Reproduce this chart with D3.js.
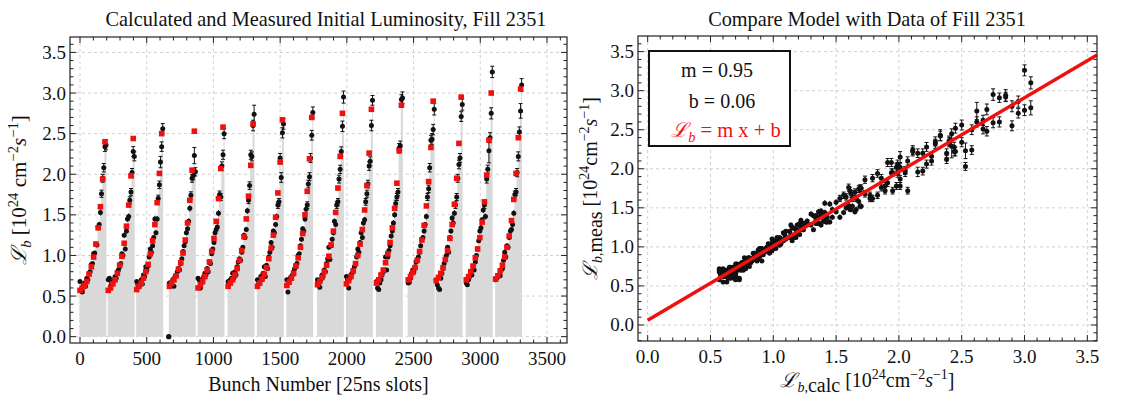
<!DOCTYPE html>
<html>
<head>
<meta charset="utf-8">
<script src="https://cdn.jsdelivr.net/npm/d3@7.9.0/dist/d3.min.js"></script>
<style>
  body { margin: 0; background: #fff; }
  text { font-family: "Liberation Serif", "DejaVu Serif", serif; fill: #111; }
</style>
</head>
<body>
<svg id="chart" width="1142" height="396"></svg>
<script>
// ---- data ----
const trainStart = [0, 212, 425, 670, 885, 1110, 1330, 1550, 1780, 1997, 2222, 2460, 2670, 2895, 3115];
const redSlot   = [0, 17, 34, 51, 68, 85, 102, 119, 136, 153, 170, 187];
const blackSlot = [0, 8, 17, 25, 34, 42, 51, 59, 68, 76, 85, 93, 102, 110, 119, 127, 136, 144, 153, 161, 170, 178, 187, 195];

// calculated luminosity (red squares), one row per train
const calcLumi = [
  [0.57, 0.60, 0.63, 0.68, 0.77, 0.86, 0.98, 1.14, 1.34, 1.60, 1.94, 2.40],
  [0.57, 0.60, 0.65, 0.70, 0.78, 0.88, 0.99, 1.15, 1.36, 1.62, 1.98, 2.44],
  [0.58, 0.62, 0.66, 0.72, 0.80, 0.89, 1.02, 1.18, 1.38, 1.65, 2.01, 2.50],
  [0.62, 0.66, 0.70, 0.75, 0.83, 0.91, 1.03, 1.19, 1.40, 1.68, 2.05, 2.53],
  [0.60, 0.64, 0.68, 0.74, 0.82, 0.92, 1.05, 1.21, 1.42, 1.70, 2.07, 2.58],
  [0.62, 0.66, 0.70, 0.76, 0.84, 0.94, 1.06, 1.23, 1.45, 1.73, 2.11, 2.62],
  [0.62, 0.66, 0.71, 0.77, 0.85, 0.96, 1.09, 1.25, 1.47, 1.77, 2.15, 2.67],
  [0.63, 0.67, 0.72, 0.78, 0.87, 0.97, 1.10, 1.27, 1.50, 1.79, 2.19, 2.70],
  [0.64, 0.68, 0.73, 0.80, 0.88, 0.99, 1.13, 1.30, 1.53, 1.83, 2.22, 2.75],
  [0.65, 0.69, 0.74, 0.81, 0.90, 1.00, 1.14, 1.32, 1.56, 1.86, 2.26, 2.80],
  [0.66, 0.70, 0.76, 0.82, 0.91, 1.02, 1.16, 1.34, 1.58, 1.89, 2.29, 2.85],
  [0.70, 0.74, 0.79, 0.85, 0.94, 1.05, 1.19, 1.37, 1.61, 1.91, 2.33, 2.90],
  [0.69, 0.73, 0.78, 0.85, 0.95, 1.06, 1.21, 1.38, 1.63, 1.95, 2.38, 2.95],
  [0.70, 0.74, 0.80, 0.87, 0.97, 1.08, 1.22, 1.41, 1.66, 1.99, 2.42, 3.00],
  [0.71, 0.75, 0.81, 0.88, 0.98, 1.10, 1.24, 1.43, 1.69, 2.01, 2.45, 3.05]
];

// measured luminosity (black points), two bunches per calculated level, one row per train
const measLumi = [
  [0.68, 0.58, 0.55, 0.63, 0.66, 0.62, 0.72, 0.70, 0.78, 0.80, 0.89, 0.90, 1.02, 1.03, 1.14, 1.13, 1.35, 1.38, 1.53, 1.76, 1.95, 2.08, 2.34, 2.36],
  [0.70, 0.72, 0.62, 0.67, 0.66, 0.70, 0.74, 0.72, 0.80, 0.82, 0.86, 0.90, 1.02, 1.00, 1.25, 1.08, 1.30, 1.45, 1.48, 1.68, 1.78, 2.02, 2.28, 2.22],
  [0.68, 0.64, 0.62, 0.67, 0.70, 0.65, 0.76, 0.74, 0.86, 0.82, 0.87, 0.98, 1.08, 1.04, 1.12, 1.22, 1.45, 1.28, 1.45, 1.70, 1.87, 2.15, 2.34, 2.56],
  [0.66, 0.64, 0.66, 0.70, 0.62, 0.74, 0.76, 0.80, 0.84, 0.82, 0.90, 0.96, 1.05, 1.12, 1.17, 1.28, 1.33, 1.42, 1.58, 1.74, 1.95, 1.98, 2.23, 2.03],
  [0.72, 0.70, 0.60, 0.66, 0.70, 0.74, 0.78, 0.76, 0.84, 0.80, 0.92, 0.90, 1.02, 1.08, 1.16, 1.28, 1.32, 1.35, 1.52, 1.75, 1.72, 2.10, 2.24, 2.50],
  [0.68, 0.65, 0.70, 0.72, 0.78, 0.72, 0.80, 0.76, 0.86, 0.92, 0.96, 0.94, 1.04, 1.10, 1.25, 1.22, 1.32, 1.55, 1.68, 1.86, 2.24, 2.22, 2.60, 2.74],
  [0.70, 0.65, 0.68, 0.74, 0.70, 0.78, 0.86, 0.74, 0.88, 0.84, 0.98, 1.04, 1.16, 1.10, 1.30, 1.28, 1.38, 1.48, 1.62, 1.66, 2.20, 1.96, 2.51, 2.62],
  [0.70, 0.55, 0.68, 0.72, 0.74, 0.76, 0.80, 0.84, 0.86, 0.90, 1.00, 1.02, 1.12, 1.20, 1.33, 1.30, 1.45, 1.57, 1.62, 1.88, 1.97, 2.20, 2.48, 2.76],
  [0.70, 0.66, 0.61, 0.70, 0.76, 0.74, 0.82, 0.80, 0.90, 0.96, 1.10, 0.95, 1.12, 1.20, 1.28, 1.42, 1.38, 1.62, 1.66, 1.94, 2.06, 2.28, 2.59, 2.95],
  [0.74, 0.70, 0.60, 0.72, 0.76, 0.78, 0.82, 0.86, 0.90, 0.98, 1.08, 1.04, 1.16, 1.28, 1.22, 1.40, 1.44, 1.66, 1.76, 1.88, 2.10, 2.16, 2.60, 2.91],
  [0.68, 0.60, 0.58, 0.66, 0.70, 0.76, 0.80, 0.82, 0.98, 0.82, 0.98, 1.06, 1.12, 1.24, 1.30, 1.40, 1.50, 1.64, 1.72, 1.78, 2.32, 2.35, 2.92, 2.94],
  [0.66, 0.67, 0.72, 0.78, 0.82, 0.80, 0.86, 0.92, 0.95, 0.98, 1.04, 1.12, 1.20, 1.22, 1.30, 1.38, 1.48, 1.72, 1.82, 2.08, 2.42, 2.43, 2.55, 2.80],
  [0.70, 0.64, 0.60, 0.58, 0.72, 0.78, 0.84, 0.90, 0.96, 1.00, 1.10, 1.04, 1.22, 1.30, 1.46, 1.40, 1.52, 1.62, 1.72, 1.95, 2.12, 2.20, 2.71, 2.86],
  [0.66, 0.64, 0.70, 0.74, 0.78, 0.76, 0.86, 0.82, 0.92, 1.00, 1.08, 1.18, 1.30, 1.34, 1.44, 1.56, 1.62, 1.48, 1.94, 2.06, 2.29, 2.45, 2.75, 3.26],
  [0.70, 0.72, 0.74, 0.76, 0.75, 0.82, 0.84, 0.94, 1.04, 0.98, 1.12, 1.10, 1.22, 1.30, 1.32, 1.38, 1.52, 1.75, 1.78, 2.02, 2.22, 2.52, 2.78, 3.10]
];

const outlierSlot = [665];
const outlierLumi = [0.0];

const relErr = 0.025;
// [train, bunch index, error] for the larger error bars
const bigErr = [[3, 22, 0.10], [5, 23, 0.11], [13, 23, 0.07], [13, 20, 0.15], [9, 23, 0.06],
                [1, 22, 0.06], [6, 21, 0.06], [10, 22, 0.06], [11, 21, 0.07], [14, 22, 0.09],
                [2, 21, 0.07], [7, 22, 0.06], [12, 22, 0.06]];

const fitM = 0.95, fitB = 0.06;

const xTicksLeft = [0, 500, 1000, 1500, 2000, 2500, 3000, 3500];
const yTicks = [0, 0.5, 1, 1.5, 2, 2.5, 3, 3.5];
const xTicksRight = [0, 0.5, 1, 1.5, 2, 2.5, 3, 3.5];

// ---- build point tables ----
const errLookup = new Map(bigErr.map(d => [d[0] + '-' + d[1], d[2]]));
const blackPts = [];
const redPts = [];
trainStart.forEach((s, t) => {
  measLumi[t].forEach((v, j) => {
    blackPts.push({
      train: t, slot: s + blackSlot[j], meas: v,
      calc: calcLumi[t][Math.floor(j / 2)],
      err: errLookup.get(t + '-' + j) ?? v * relErr
    });
  });
  calcLumi[t].forEach((v, k) => redPts.push({ slot: s + redSlot[k], calc: v }));
});

const svg = d3.select('#chart');
const fmt = d3.format('.1f');
const RED = '#f01010';

function richText(sel, parts, size) {
  parts.forEach(p => {
    const ts = sel.append('tspan').text(p.t);
    if (p.i) ts.attr('font-style', 'italic');
    if (p.sup) ts.attr('font-size', size * 0.7).attr('dy', -size * 0.38);
    if (p.sub) ts.attr('font-size', size * 0.7).attr('dy', size * 0.25);
    if (p.back) ts.attr('dy', p.back * size);
  });
}

function grid(g, box, x, y, xMaj, yMaj) {
  const gridC = '#d0d0d0';
  g.append('g').selectAll('line').data(xMaj).join('line')
    .attr('x1', d => x(d)).attr('x2', d => x(d)).attr('y1', box.y0).attr('y2', box.y1)
    .attr('stroke', gridC).attr('stroke-dasharray', '3,3');
  g.append('g').selectAll('line').data(yMaj).join('line')
    .attr('y1', d => y(d)).attr('y2', d => y(d)).attr('x1', box.x0).attr('x2', box.x1)
    .attr('stroke', gridC).attr('stroke-dasharray', '3,3');
}

function frameTicks(g, box, x, y, xMaj, xMin, yMaj, yMin, xFmt) {
  const tk = g.append('g').attr('stroke', '#222').attr('stroke-width', 1);
  const addX = (vals, len) => {
    tk.append('g').selectAll('line').data(vals).join('line')
      .attr('x1', d => x(d)).attr('x2', d => x(d)).attr('y1', box.y1).attr('y2', box.y1 - len);
    tk.append('g').selectAll('line').data(vals).join('line')
      .attr('x1', d => x(d)).attr('x2', d => x(d)).attr('y1', box.y0).attr('y2', box.y0 + len);
  };
  const addY = (vals, len) => {
    tk.append('g').selectAll('line').data(vals).join('line')
      .attr('y1', d => y(d)).attr('y2', d => y(d)).attr('x1', box.x0).attr('x2', box.x0 + len);
    tk.append('g').selectAll('line').data(vals).join('line')
      .attr('y1', d => y(d)).attr('y2', d => y(d)).attr('x1', box.x1).attr('x2', box.x1 - len);
  };
  addX(xMaj, 6); addX(xMin, 3.5); addY(yMaj, 6); addY(yMin, 3.5);
  g.append('rect').attr('x', box.x0).attr('y', box.y0)
    .attr('width', box.x1 - box.x0).attr('height', box.y1 - box.y0)
    .attr('fill', 'none').attr('stroke', '#222').attr('stroke-width', 1.2);
  g.append('g').selectAll('text').data(xMaj).join('text')
    .attr('x', d => x(d)).attr('y', box.y1 + 22).attr('text-anchor', 'middle')
    .attr('font-size', 19).text(xFmt);
  g.append('g').selectAll('text').data(yMaj).join('text')
    .attr('x', box.x0 - 4).attr('y', d => y(d) + 6.5).attr('text-anchor', 'end')
    .attr('font-size', 19).text(fmt);
}

function errorBars(g, data, xf, yf) {
  const eb = g.append('g').attr('stroke', '#111').attr('stroke-width', 1);
  eb.selectAll('.v').data(data).join('line').attr('class', 'v')
    .attr('x1', xf).attr('x2', xf)
    .attr('y1', d => yf(d.meas - d.err)).attr('y2', d => yf(d.meas + d.err));
  [1, -1].forEach(sgn => {
    eb.append('g').selectAll('line').data(data.filter(d => d.err > 0.04)).join('line')
      .attr('x1', d => xf(d) - 2).attr('x2', d => xf(d) + 2)
      .attr('y1', d => yf(d.meas + sgn * d.err))
      .attr('y2', d => yf(d.meas + sgn * d.err));
  });
}

// ================= left panel =================
const L = { x0: 70, x1: 567, y0: 37, y1: 343 };
const xL = d3.scaleLinear().domain([-75, 3650]).range([L.x0, L.x1]);
const yL = d3.scaleLinear().domain([-0.078, 3.69]).range([L.y1, L.y0]);
const gL = svg.append('g');

grid(gL, L, xL, yL, xTicksLeft, yTicks);

// gray bars under each train
const area = d3.area().curve(d3.curveStepAfter)
  .x(d => xL(d.slot)).y0(yL(0)).y1(d => yL(d.v));
trainStart.forEach((s, t) => {
  const pts = measLumi[t].map((v, j) => ({ slot: s + blackSlot[j] - 4, v }));
  pts.push({ slot: s + blackSlot[blackSlot.length - 1] + 3, v: measLumi[t][measLumi[t].length - 1] });
  gL.append('path').datum(pts).attr('d', area).attr('fill', '#d9d9d9');
});

errorBars(gL, blackPts, d => xL(d.slot), yL);
gL.append('g').selectAll('circle').data(blackPts).join('circle')
  .attr('cx', d => xL(d.slot)).attr('cy', d => yL(d.meas)).attr('r', 2.5).attr('fill', '#111');
gL.append('g').selectAll('circle').data(outlierSlot).join('circle')
  .attr('cx', d => xL(d)).attr('cy', (d, i) => yL(outlierLumi[i])).attr('r', 2.7).attr('fill', '#111');
gL.append('g').selectAll('rect').data(redPts).join('rect')
  .attr('x', d => xL(d.slot) - 2.8).attr('y', d => yL(d.calc) - 2.8)
  .attr('width', 5.6).attr('height', 5.6).attr('fill', RED);

frameTicks(gL, L, xL, yL, xTicksLeft, d3.range(-0, 3650, 100).filter(v => v % 500),
  yTicks, d3.range(0, 3.7, 0.1).filter((v, i) => i % 5), d => String(d));

gL.append('text').attr('x', 326).attr('y', 26).attr('text-anchor', 'middle')
  .attr('font-size', 20.3).text('Calculated and Measured Initial Luminosity, Fill 2351');
gL.append('text').attr('x', (L.x0 + L.x1) / 2).attr('y', 391).attr('text-anchor', 'middle')
  .attr('font-size', 20).text('Bunch Number [25ns slots]');
richText(
  gL.append('text').attr('transform', `translate(26,${(L.y0 + L.y1) / 2}) rotate(-90)`)
    .attr('text-anchor', 'middle').attr('font-size', 21),
  [{ t: 'ℒ', i: 1 }, { t: 'b', i: 1, sub: 1 }, { t: ' [10', back: -0.25 }, { t: '24', sup: 1 },
   { t: ' cm', back: 0.38 }, { t: '−2', sup: 1 }, { t: 's', i: 1, back: 0.38 }, { t: '−1', sup: 1 },
   { t: ']', back: 0.38 }], 21);

// ================= right panel =================
const R = { x0: 638, x1: 1097, y0: 36, y1: 341 };
const xR = d3.scaleLinear().domain([-0.077, 3.577]).range([R.x0, R.x1]);
const yR = d3.scaleLinear().domain([-0.205, 3.70]).range([R.y1, R.y0]);
const gR = svg.append('g');

grid(gR, R, xR, yR, xTicksRight, yTicks);

svg.append('clipPath').attr('id', 'clipR').append('rect')
  .attr('x', R.x0).attr('y', R.y0).attr('width', R.x1 - R.x0).attr('height', R.y1 - R.y0);

errorBars(gR, blackPts, d => xR(d.calc), yR);
gR.append('g').selectAll('circle').data(blackPts).join('circle')
  .attr('cx', d => xR(d.calc)).attr('cy', d => yR(d.meas)).attr('r', 2.5).attr('fill', '#111');

const fitX = [0, xR.domain()[1]];
gR.append('path').attr('clip-path', 'url(#clipR)')
  .datum(fitX)
  .attr('d', d3.line().x(d => xR(d)).y(d => yR(fitM * d + fitB)))
  .attr('stroke', RED).attr('stroke-width', 3.5).attr('fill', 'none');

frameTicks(gR, R, xR, yR, xTicksRight, d3.range(0, 3.6, 0.1).filter((v, i) => i % 5),
  yTicks, d3.range(-0.2, 3.7, 0.1).filter((v, i) => (i - 2) % 5), fmt);

// legend box
const leg = gR.append('g');
leg.append('rect').attr('x', 649).attr('y', 51).attr('width', 141).attr('height', 95)
  .attr('fill', '#fff').attr('stroke', '#111').attr('stroke-width', 2);
leg.append('text').attr('x', 717).attr('y', 77).attr('text-anchor', 'middle')
  .attr('font-size', 20).text(`m = ${fitM.toFixed(2)}`);
leg.append('text').attr('x', 722).attr('y', 108).attr('text-anchor', 'middle')
  .attr('font-size', 20).text(`b = ${fitB.toFixed(2)}`);
richText(
  leg.append('text').attr('x', 726).attr('y', 137).attr('text-anchor', 'middle')
    .attr('font-size', 20.5).style('fill', RED),
  [{ t: 'ℒ', i: 1 }, { t: 'b', i: 1, sub: 1 }, { t: ' = m x + b', back: -0.25 }], 20.5);

gR.append('text').attr('x', 867).attr('y', 26).attr('text-anchor', 'middle')
  .attr('font-size', 20.3).text('Compare Model with Data of Fill 2351');
richText(
  gR.append('text').attr('x', (R.x0 + R.x1) / 2).attr('y', 387).attr('text-anchor', 'middle')
    .attr('font-size', 20),
  [{ t: 'ℒ', i: 1 }, { t: 'b,', i: 1, sub: 1 }, { t: 'calc', sub: 0 }, { t: ' [10', back: -0.25 }, { t: '24', sup: 1 },
   { t: 'cm', back: 0.38 }, { t: '−2', sup: 1 }, { t: 's', i: 1, back: 0.38 }, { t: '−1', sup: 1 },
   { t: ']', back: 0.38 }], 20);
richText(
  gR.append('text').attr('transform', `translate(597,${(R.y0 + R.y1) / 2}) rotate(-90)`)
    .attr('text-anchor', 'middle').attr('font-size', 20),
  [{ t: 'ℒ', i: 1 }, { t: 'b,', i: 1, sub: 1 }, { t: 'meas', sub: 0 }, { t: ' [10', back: -0.25 }, { t: '24', sup: 1 },
   { t: 'cm', back: 0.38 }, { t: '−2', sup: 1 }, { t: 's', i: 1, back: 0.38 }, { t: '−1', sup: 1 },
   { t: ']', back: 0.38 }], 20);
</script>
</body>
</html>
